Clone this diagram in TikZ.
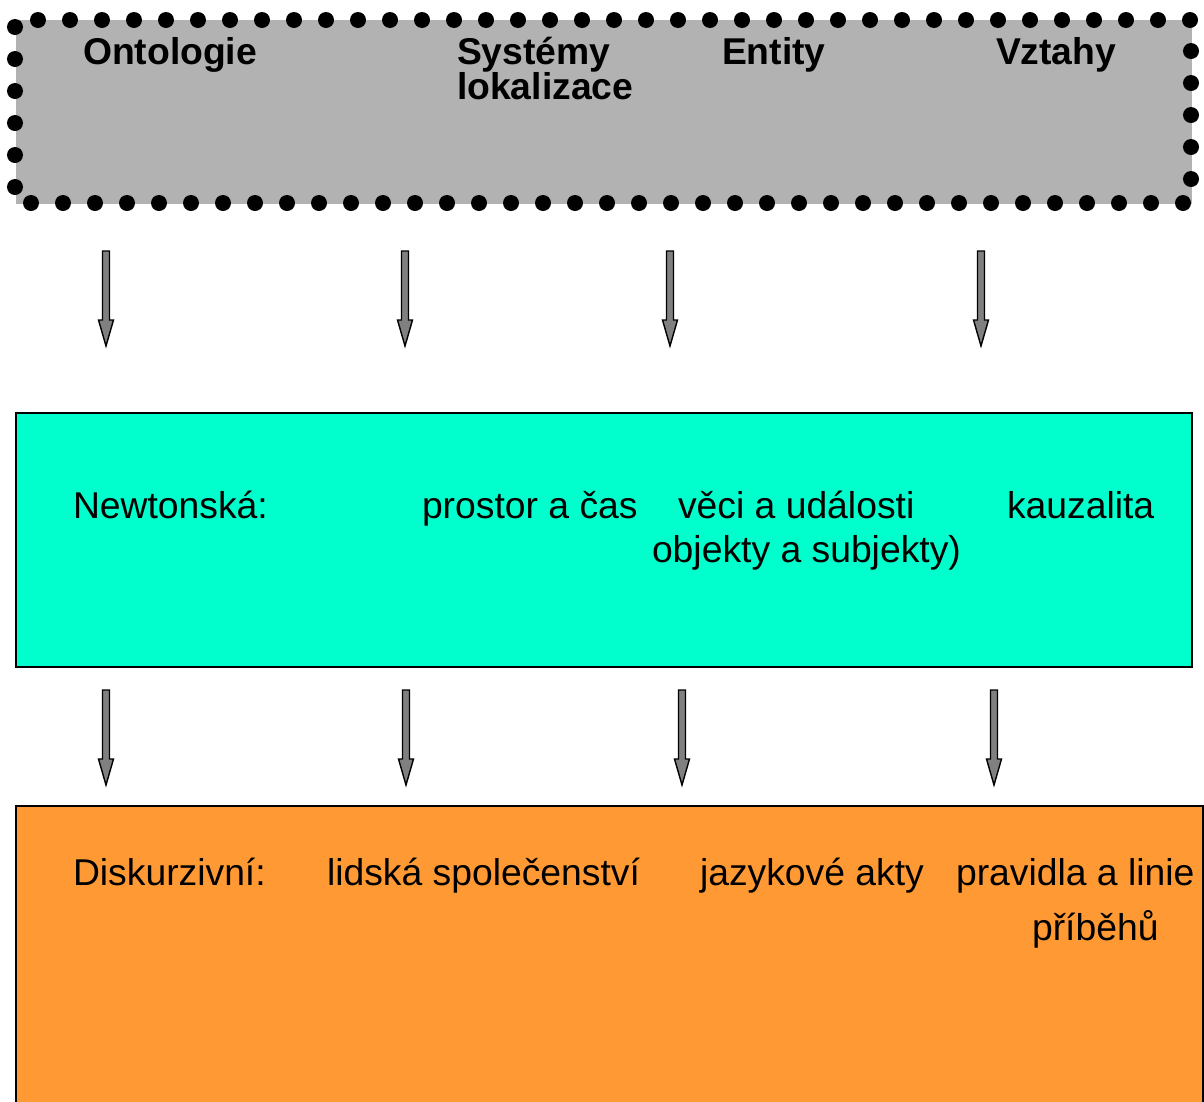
\documentclass[tikz,border=0pt]{standalone}
\usepackage{fontspec}
\setmainfont{Liberation Sans}
\definecolor{boxgray}{HTML}{B2B2B2}
\definecolor{boxcyan}{HTML}{00FFCC}
\definecolor{boxorange}{HTML}{FF9933}
\definecolor{arrowgray}{HTML}{808080}
\begin{document}
\begin{tikzpicture}[x=1pt,y=-1pt,
  lbl/.style={anchor=base west,inner sep=0pt,outer sep=0pt,font=\fontsize{37.3}{40}\selectfont},
  blbl/.style={lbl,font=\fontsize{37.3}{40}\selectfont\bfseries},
  blockarrow/.style={fill=arrowgray,draw=black,line width=1.4pt,line join=miter}]
\useasboundingbox (0,0) rectangle (1204,1101);
\clip (0,0) rectangle (1204,1101);
% top gray box with dotted border
\fill[boxgray] (16,20) rectangle (1192,204);
\draw[line width=16pt,line cap=round,dash pattern=on 0pt off 32pt,dash phase=25pt]
  (15,20) -- (15,203) -- (1191,203) -- (1191,20) -- cycle;
\node[blbl] (ont) at (83,64) {Ontologie};
\node[blbl] (sys) at (457,64) {Systémy};
\node[blbl] (lok) at (457,99) {lokalizace};
\node[blbl] (ent) at (722,64) {Entity};
\node[blbl] (vzt) at (996,64) {Vztahy};
% cyan box
\draw[fill=boxcyan,line width=2pt] (16,413) rectangle (1192,667);
\node[lbl] (newt) at (73,518) {Newtonská:};
\node[lbl] (pc) at (422,518) {prostor a čas};
\node[lbl] (vu) at (678,518) {věci a události};
\node[lbl] (os) at (652,562) {objekty a subjekty)};
\node[lbl] (kau) at (1007,518) {kauzalita};
% orange box
\draw[fill=boxorange,line width=2pt] (16,806) rectangle (1203,1120);
\node[lbl] (disk) at (73,885) {Diskurzivní:};
\node[lbl] (ls) at (327,885) {lidská společenství};
\node[lbl] (ja) at (700,885) {jazykové akty};
\node[lbl] (pl) at (956,885) {pravidla a linie};
\node[lbl] (pr) at (1032,940) {příběhů};
% block arrows
\foreach \x in {106,405,670,981}{
  \draw[blockarrow] (\x-3.5,251) -- (\x+3.5,251) -- (\x+3.5,320) -- (\x+7.5,320)
    -- (\x,346) -- (\x-7.5,320) -- (\x-3.5,320) -- cycle;
}
\foreach \x in {106,406,682,994}{
  \draw[blockarrow] (\x-3.5,690) -- (\x+3.5,690) -- (\x+3.5,759) -- (\x+7.5,759)
    -- (\x,785) -- (\x-7.5,759) -- (\x-3.5,759) -- cycle;
}
\end{tikzpicture}
\end{document}
